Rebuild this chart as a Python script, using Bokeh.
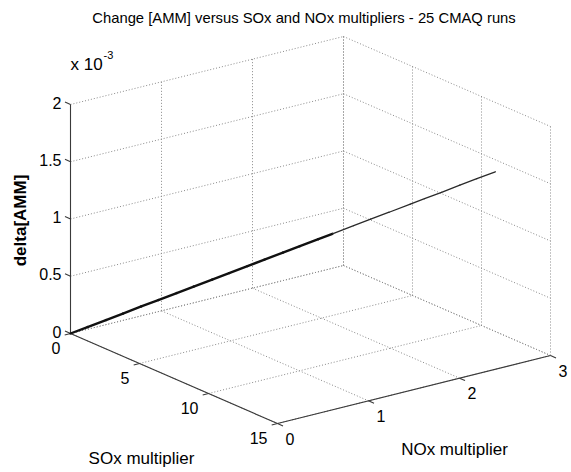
import numpy as np
from bokeh.plotting import figure
from bokeh.models import Range1d
from bokeh.core.properties import value
from bokeh.embed import file_html
from bokeh.resources import INLINE

# ---- chart content -------------------------------------------------------
title_text = "Change [AMM] versus SOx and NOx multipliers - 25 CMAQ runs"
sox_label = "SOx multiplier"
nox_label = "NOx multiplier"
amm_label = "delta[AMM]"

sox_ticks = [0, 5, 10, 15]
nox_ticks = [0, 1, 2, 3]
amm_ticks = [0.0, 0.5e-3, 1.0e-3, 1.5e-3, 2.0e-3]
amm_tick_labels = ["0", "0.5", "1", "1.5", "2"]

# 25 CMAQ runs: emission multipliers and resulting change in ammonium
sox_mult = [0.0, 0.44, 0.92, 1.36, 1.83, 2.27, 2.75, 3.19, 3.67, 4.11, 4.58, 5.02,
            5.50, 5.94, 6.42, 6.78, 7.33, 7.77, 8.25, 8.80, 9.17, 9.61, 10.08, 10.52, 11.0]
nox_mult = [0.0, 0.12, 0.25, 0.37, 0.50, 0.62, 0.75, 0.87, 1.00, 1.12, 1.25, 1.37,
            1.50, 1.62, 1.75, 1.85, 2.00, 2.12, 2.25, 2.40, 2.50, 2.62, 2.75, 2.87, 3.0]
delta_amm = [0.0, 0.056e-3, 0.116e-3, 0.172e-3, 0.233e-3, 0.288e-3, 0.349e-3, 0.405e-3,
             0.465e-3, 0.521e-3, 0.581e-3, 0.637e-3, 0.698e-3, 0.753e-3, 0.814e-3,
             0.860e-3, 0.930e-3, 0.986e-3, 1.046e-3, 1.116e-3, 1.163e-3, 1.218e-3,
             1.279e-3, 1.335e-3, 1.395e-3]

# ---- 3-D view: screen position of the box origin and per-unit axis vectors
W, H = 571, 472
ORIGIN = np.array([70.0, 333.0])
E_SOX = np.array([207.0, 90.0]) / 15.0
E_NOX = np.array([273.0, -68.0]) / 3.0
E_AMM = np.array([0.0, -229.0]) / 2.0e-3

SOX_LIM = (0, 15)
NOX_LIM = (0, 3)
AMM_LIM = (0.0, 2.0e-3)


def proj(s, n, z):
    s = np.asarray(s, dtype=float)
    n = np.asarray(n, dtype=float)
    z = np.asarray(z, dtype=float)
    x = ORIGIN[0] + s * E_SOX[0] + n * E_NOX[0] + z * E_AMM[0]
    y = ORIGIN[1] + s * E_SOX[1] + n * E_NOX[1] + z * E_AMM[1]
    return x, y


def unit(v):
    return v / np.hypot(*v)


FONT = value("Liberation Sans")

p = figure(width=W, height=H, x_range=Range1d(0, W), y_range=Range1d(H, 0),
           output_backend="svg", toolbar_location=None,
           x_axis_location=None, y_axis_location=None, min_border=0)
p.grid.visible = False
p.outline_line_color = None
p.background_fill_color = "white"
p.border_fill_color = "white"

# ---- dotted grid on the floor and the two back walls ----------------------
gx0, gy0, gx1, gy1 = [], [], [], []


def add_seg(a, b):
    xa, ya = proj(*a)
    xb, yb = proj(*b)
    gx0.append(float(xa)); gy0.append(float(ya))
    gx1.append(float(xb)); gy1.append(float(yb))


zmax = AMM_LIM[1]
for s in sox_ticks:
    add_seg((s, NOX_LIM[0], 0), (s, NOX_LIM[1], 0))          # floor
    add_seg((s, NOX_LIM[1], 0), (s, NOX_LIM[1], zmax))       # wall NOx = max
for n in nox_ticks:
    add_seg((SOX_LIM[0], n, 0), (SOX_LIM[1], n, 0))          # floor
    add_seg((SOX_LIM[0], n, 0), (SOX_LIM[0], n, zmax))       # wall SOx = 0
for z in amm_ticks:
    add_seg((SOX_LIM[0], NOX_LIM[0], z), (SOX_LIM[0], NOX_LIM[1], z))
    add_seg((SOX_LIM[0], NOX_LIM[1], z), (SOX_LIM[1], NOX_LIM[1], z))

p.segment(gx0, gy0, gx1, gy1, line_color="#8a8a8a", line_width=1,
          line_dash="1 2")

# ---- solid axis lines with tick marks ------------------------------------
AX_COLOR = "#3a3a3a"
ax0, ay0, ax1, ay1 = [], [], [], []


def add_axis(a, b):
    xa, ya = proj(*a)
    xb, yb = proj(*b)
    ax0.append(float(xa)); ay0.append(float(ya))
    ax1.append(float(xb)); ay1.append(float(yb))


add_axis((0, 0, 0), (SOX_LIM[1], 0, 0))                       # SOx axis
add_axis((SOX_LIM[1], 0, 0), (SOX_LIM[1], NOX_LIM[1], 0))     # NOx axis
add_axis((0, 0, 0), (0, 0, zmax))                             # delta axis

TICK = 6.0
d_sox = -unit(E_NOX) * TICK
d_nox = unit(E_SOX) * TICK
d_amm = -unit(E_SOX) * TICK

for s in sox_ticks:
    x, y = proj(s, 0, 0)
    ax0.append(float(x)); ay0.append(float(y))
    ax1.append(float(x + d_sox[0])); ay1.append(float(y + d_sox[1]))
for n in nox_ticks:
    x, y = proj(SOX_LIM[1], n, 0)
    ax0.append(float(x)); ay0.append(float(y))
    ax1.append(float(x + d_nox[0])); ay1.append(float(y + d_nox[1]))
for z in amm_ticks:
    x, y = proj(0, 0, z)
    ax0.append(float(x)); ay0.append(float(y))
    ax1.append(float(x + d_amm[0])); ay1.append(float(y + d_amm[1]))

p.segment(ax0, ay0, ax1, ay1, line_color=AX_COLOR, line_width=1.1)

# ---- data: the 25 runs as one 3-D line -----------------------------------
rx, ry = proj(sox_mult, nox_mult, delta_amm)
n_dense = 15  # overlapping runs near the origin render heavier
widths = [2.4 if i < n_dense else 1.3 for i in range(len(rx) - 1)]
colors = ["#111111" if i < n_dense else "#2a2a2a" for i in range(len(rx) - 1)]
p.segment(list(rx[:-1]), list(ry[:-1]), list(rx[1:]), list(ry[1:]),
          line_color=colors, line_width=widths, line_cap="round")

# ---- tick labels ----------------------------------------------------------
TICK_FS = "16px"
sx, sy = proj(sox_ticks, [0] * 4, [0] * 4)
p.text(x=list(sx - 10), y=list(sy + 14), text=[str(v) for v in sox_ticks],
       text_font=FONT, text_font_size=TICK_FS, text_align="right",
       text_baseline="middle", text_color="black")

nx, ny = proj([SOX_LIM[1]] * 4, nox_ticks, [0] * 4)
p.text(x=list(nx + 8), y=list(ny + 15), text=[str(v) for v in nox_ticks],
       text_font=FONT, text_font_size=TICK_FS, text_align="left",
       text_baseline="middle", text_color="black")

zx, zy = proj([0] * 5, [0] * 5, amm_ticks)
p.text(x=list(zx - 9), y=list(zy - 2), text=amm_tick_labels,
       text_font=FONT, text_font_size=TICK_FS, text_align="right",
       text_baseline="middle", text_color="black")

# exponent for the delta axis
p.text(x=[70], y=[64], text=["x 10"], text_font=FONT, text_font_size="17px",
       text_align="left", text_baseline="middle", text_color="black")
p.text(x=[103], y=[54], text=["-3"], text_font=FONT, text_font_size="11px",
       text_align="left", text_baseline="middle", text_color="black")

# ---- axis labels and title -----------------------------------------------
p.text(x=[141], y=[458], text=[sox_label], text_font=FONT, text_font_size="17px",
       text_align="center", text_baseline="middle", text_color="black")
p.text(x=[454], y=[449], text=[nox_label], text_font=FONT, text_font_size="17px",
       text_align="center", text_baseline="middle", text_color="black")
p.text(x=[20], y=[220], text=[amm_label], text_font=FONT, text_font_size="17px",
       text_font_style="bold", angle=np.pi / 2, text_align="center",
       text_baseline="middle", text_color="black")
p.text(x=[303.5], y=[17.5], text=[title_text], text_font=FONT,
       text_font_size="14.8px", text_align="center", text_baseline="middle",
       text_color="black")

open("out.html", "w").write(file_html(p, INLINE))
